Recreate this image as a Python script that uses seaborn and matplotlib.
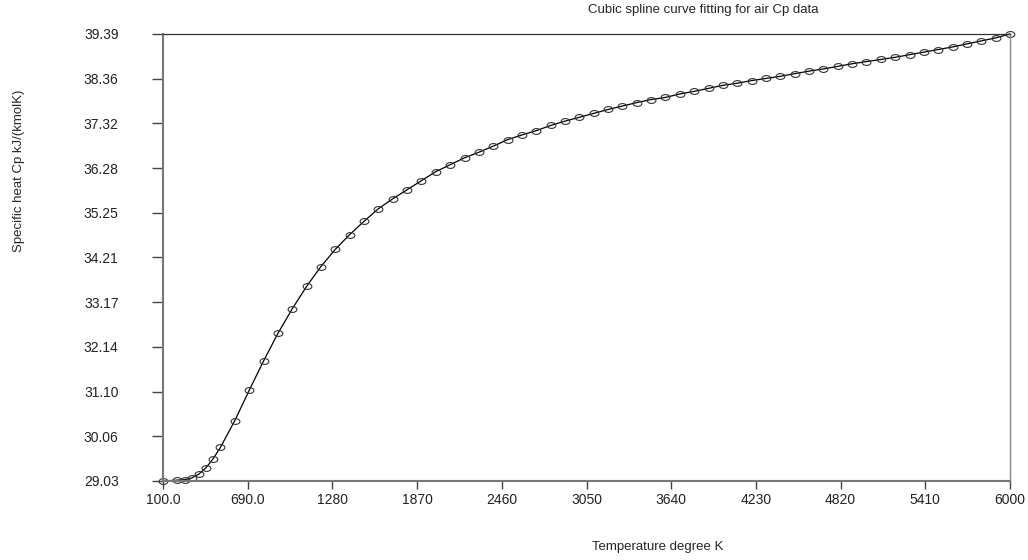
import numpy as np
import pandas as pd
import matplotlib
matplotlib.use('Agg')
import matplotlib.pyplot as plt
import seaborn as sns
from matplotlib.path import Path
from matplotlib.transforms import Affine2D

# temperature (K) and Cp (kJ/kmol K)
temp = [100, 200, 250, 300, 350, 400, 450, 500] + list(range(600, 6001, 100))
cp = [29.03, 29.05, 29.06, 29.10, 29.19, 29.34, 29.55, 29.81,
      30.43, 31.13, 31.81, 32.45, 33.02, 33.54, 34.00, 34.40, 34.74, 35.05,
      35.34, 35.57, 35.78, 35.99, 36.20, 36.36, 36.52, 36.65, 36.79, 36.94,
      37.05, 37.15, 37.27, 37.37, 37.46, 37.55, 37.64, 37.72, 37.80, 37.87,
      37.92, 38.00, 38.06, 38.13, 38.20, 38.25, 38.31, 38.36, 38.41, 38.47,
      38.53, 38.58, 38.64, 38.70, 38.75, 38.80, 38.85, 38.91, 38.97, 39.03,
      39.09, 39.16, 39.23, 39.30, 39.39]

x_tick_labels = ['100.0', '690.0', '1280', '1870', '2460', '3050',
                 '3640', '4230', '4820', '5410', '6000']
y_tick_labels = ['29.03', '30.06', '31.10', '32.14', '33.17', '34.21',
                 '35.25', '36.28', '37.32', '38.36', '39.39']

df = pd.DataFrame({'T': temp, 'Cp': cp})

sns.set_style('white')
plt.rcParams['font.family'] = ['Liberation Sans', 'DejaVu Sans']

fig = plt.figure(figsize=(10.28, 5.6), dpi=100)
ax = fig.add_axes([0.1586, 0.1411, 0.9825 - 0.1586, 0.9393 - 0.1411])

# small flat ellipse markers
ellipse = Path.unit_circle().transformed(Affine2D().scale(1.5, 1.0))

sns.lineplot(data=df, x='T', y='Cp', ax=ax, color='black', linewidth=0.9,
             marker=ellipse, markersize=6.3, markerfacecolor='none',
             markeredgecolor='#333333', markeredgewidth=0.8, clip_on=False)

ax.set_xlim(100, 6000)
ax.set_ylim(min(cp), max(cp))
ax.set_xticks(np.linspace(100, 6000, 11))
ax.set_xticklabels(x_tick_labels)
ax.set_yticks(np.linspace(min(cp), max(cp), 11))
ax.set_yticklabels(y_tick_labels)
ax.tick_params(axis='both', direction='out', labelsize=10, colors='#222222',
               bottom=True, left=True)
ax.tick_params(axis='y', length=8, width=1, pad=24, color='#444444')
ax.tick_params(axis='x', length=5.5, width=1, pad=3, color='#444444')
ax.set_xlabel('')
ax.set_ylabel('')

for side in ['left', 'bottom']:
    ax.spines[side].set_color('#777777')
    ax.spines[side].set_linewidth(1.5)
ax.spines['right'].set_color('#888888')
ax.spines['right'].set_linewidth(1.0)
ax.spines['top'].set_color('#333333')
ax.spines['top'].set_linewidth(0.9)

fig.text(0.684, 0.982, 'Cubic spline curve fitting for air Cp data',
         ha='center', va='center', fontsize=9.5)
fig.text(0.64, 0.023, 'Temperature degree K', ha='center', va='center', fontsize=9.5)
fig.text(0.018, 0.695, 'Specific heat Cp kJ/(kmolK)', ha='center', va='center',
         rotation=90, fontsize=9.5)

fig.savefig('out.png', dpi=100)
